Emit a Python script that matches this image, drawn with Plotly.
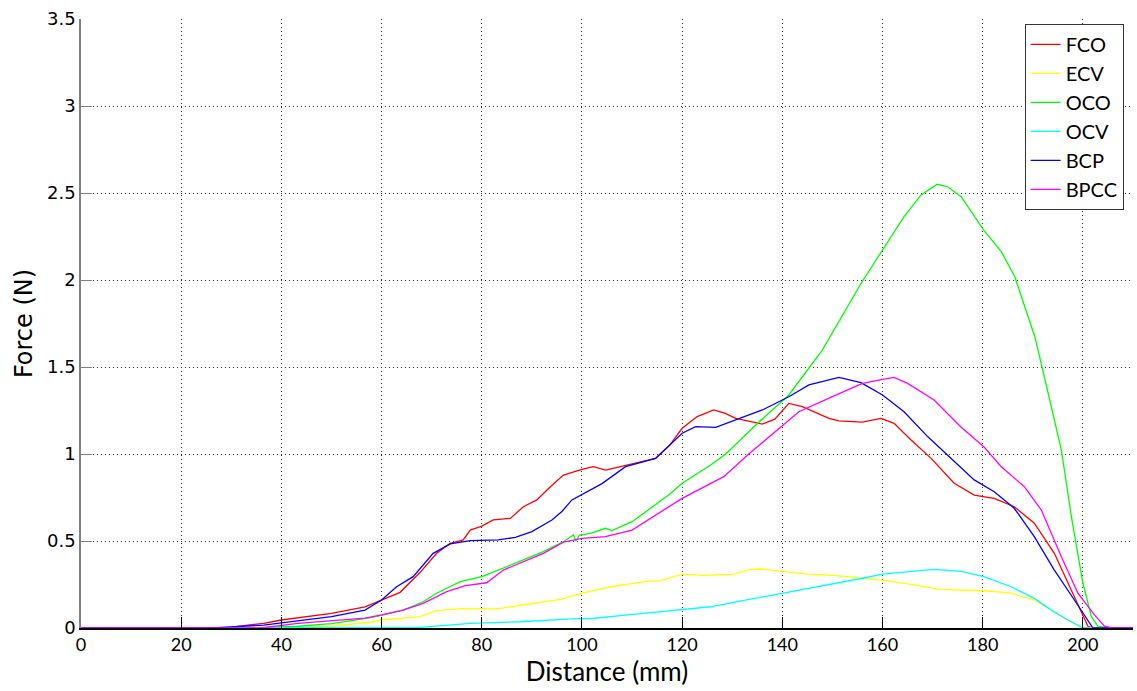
import plotly.graph_objects as go

# ---- data ----
fco_x = [0, 20, 28, 30, 33, 36.5, 40, 45, 50, 56.7, 60, 63.7, 67.7, 71, 73.7, 76.3, 77.7, 80, 82.3, 85.7,
         88.3, 91, 93.7, 96.3, 100, 102.3, 104.7, 109.3, 114.7, 117.5, 120, 123, 126.3, 128.5, 130.7, 136,
         138.5, 141.3, 144, 149.3, 151.3, 156, 159.7, 162.3, 165.7, 169.7, 174.3, 178.3, 182.3, 186.3,
         190.3, 194.3, 197.7, 199.7, 201, 202, 210]
fco_y = [0, 0, 0, 0.005, 0.015, 0.027, 0.046, 0.065, 0.084, 0.122, 0.161, 0.205, 0.32, 0.429, 0.487, 0.506,
         0.563, 0.586, 0.621, 0.63, 0.697, 0.736, 0.812, 0.879, 0.912, 0.927, 0.908, 0.937, 0.975, 1.05,
         1.148, 1.215, 1.253, 1.235, 1.205, 1.172, 1.2, 1.291, 1.272, 1.205, 1.19, 1.183, 1.205, 1.176,
         1.08, 0.975, 0.832, 0.764, 0.745, 0.697, 0.602, 0.429, 0.218, 0.084, 0.01, 0, 0]

ecv_x = [0, 40, 50, 57.8, 60, 67.7, 71, 76.3, 83.3, 91, 95.8, 100, 105.8, 112.5, 115.8, 120, 124.3, 130.3,
         133, 135.7, 140, 145, 151, 155.7, 160.7, 166.7, 171.3, 180.2, 185.7, 190.3, 193.7, 197, 199.7,
         201, 210]
ecv_y = [0, 0, 0.01, 0.033, 0.046, 0.065, 0.1, 0.111, 0.111, 0.142, 0.165, 0.2, 0.237, 0.266, 0.272, 0.31,
         0.303, 0.31, 0.333, 0.339, 0.324, 0.31, 0.301, 0.286, 0.272, 0.247, 0.222, 0.214, 0.2, 0.161,
         0.103, 0.046, 0.005, 0, 0]

oco_x = [0, 35, 43.3, 50, 57.8, 60, 64.3, 68.3, 71, 75.7, 80, 84.3, 88.3, 92.3, 96.3, 98.3, 98.8, 99.5,
         101.7, 104.7, 106, 110, 117.3, 120, 125.7, 128.7, 134.7, 141.3, 148, 155.7, 160, 164.3, 167.7,
         170.9, 173, 175.7, 180.2, 183.7, 186.4, 190.4, 192.3, 195.7, 197.7, 200, 201.7, 203, 205, 210]
oco_y = [0, 0, 0.01, 0.025, 0.06, 0.073, 0.103, 0.151, 0.2, 0.266, 0.295, 0.343, 0.391, 0.439, 0.496,
         0.534, 0.5, 0.534, 0.544, 0.573, 0.56, 0.611, 0.764, 0.832, 0.937, 1.0, 1.167, 1.339, 1.598,
         1.98, 2.176, 2.364, 2.489, 2.55, 2.536, 2.479, 2.287, 2.163, 2.019, 1.674, 1.444, 1.023, 0.64,
         0.257, 0.065, 0.01, 0, 0]

ocv_x = [0, 60, 67.7, 77.7, 87.7, 98, 102.5, 109.2, 115.8, 120, 125.7, 131, 135.7, 140, 145.7, 152.3,
         156, 160, 165, 170.3, 175.7, 180.2, 185.7, 190.3, 193.7, 197, 199.7, 201, 210]
ocv_y = [0, 0, 0.003, 0.027, 0.036, 0.052, 0.056, 0.075, 0.094, 0.107, 0.122, 0.151, 0.176, 0.199,
         0.228, 0.266, 0.286, 0.31, 0.325, 0.337, 0.325, 0.295, 0.237, 0.17, 0.103, 0.046, 0.005, 0, 0]

bcp_x = [0, 26, 30, 36.5, 40, 50, 56.7, 60, 63, 66.3, 70.3, 73.7, 77.7, 80, 83.3, 86.7, 90, 94, 96, 98,
         101.7, 104, 108.7, 114.7, 120, 122.7, 126.7, 130.7, 136, 141.3, 145.3, 151.3, 155.7, 160, 164.3,
         169, 174.3, 178.3, 182.3, 186.3, 190.3, 194.3, 198.3, 201, 202, 210]
bcp_y = [0, 0, 0.006, 0.017, 0.03, 0.065, 0.103, 0.161, 0.237, 0.295, 0.429, 0.483, 0.502, 0.502, 0.506,
         0.521, 0.554, 0.621, 0.67, 0.736, 0.793, 0.83, 0.927, 0.975, 1.119, 1.157, 1.153, 1.195, 1.253,
         1.329, 1.397, 1.44, 1.41, 1.339, 1.243, 1.1, 0.956, 0.851, 0.783, 0.688, 0.525, 0.333, 0.161,
         0.046, 0, 0]

bpcc_x = [0, 36, 43.3, 50, 56.7, 60, 64.3, 68.3, 73, 76.7, 81, 84.3, 88.3, 92.3, 96.3, 100, 104.7, 110,
          120, 128.3, 133.3, 138.3, 143.3, 150, 156, 160, 162.3, 165, 170.3, 175.6, 180.2, 183.7, 188.3,
          191.7, 195.7, 199, 202.3, 204.3, 206, 210]
bpcc_y = [0, 0, 0.027, 0.042, 0.057, 0.075, 0.103, 0.142, 0.209, 0.243, 0.26, 0.333, 0.381, 0.429, 0.493,
          0.515, 0.525, 0.563, 0.745, 0.87, 1.0, 1.119, 1.243, 1.33, 1.406, 1.429, 1.44, 1.406, 1.31, 1.157,
          1.042, 0.927, 0.812, 0.678, 0.41, 0.2, 0.075, 0.01, 0, 0]

series = [
    ("FCO", fco_x, fco_y, "#FF0000"),
    ("ECV", ecv_x, ecv_y, "#FFFF00"),
    ("OCO", oco_x, oco_y, "#00FF00"),
    ("OCV", ocv_x, ocv_y, "#00FFFF"),
    ("BCP", bcp_x, bcp_y, "#0000FF"),
    ("BPCC", bpcc_x, bpcc_y, "#FF00FF"),
]

x_ticks = [0, 20, 40, 60, 80, 100, 120, 140, 160, 180, 200]
y_ticks = [0, 0.5, 1, 1.5, 2, 2.5, 3, 3.5]
y_tick_text = ["0", "0.5", "1", "1.5", "2", "2.5", "3", "3.5"]

fig = go.Figure()
for i, (name, xs, ys, col) in enumerate(series):
    fig.add_trace(go.Scatter(x=xs, y=ys, mode="lines", name=name,
                             line=dict(color=col, width=1.3),
                             legendgroup="g%d" % i))

grid_dash = "1px,3px"

fig.update_layout(
    width=1137, height=691,
    margin=dict(l=81, r=4, t=19, b=63, autoexpand=False),
    paper_bgcolor="white", plot_bgcolor="white",
    showlegend=True,
    legend=dict(x=0.897, y=0.992, xanchor="left", yanchor="top",
                bgcolor="white", bordercolor="#333333", borderwidth=1,
                font=dict(family="Lato, Open Sans, sans-serif", size=20, color="black"),
                tracegroupgap=0, itemwidth=30),
    xaxis=dict(range=[0, 210], tickvals=x_ticks, ticks="inside", ticklen=11, tickcolor="black",
               showline=True, linecolor="black", linewidth=1.5, zeroline=False, automargin=False,
               showgrid=True, gridcolor="#333333", griddash=grid_dash, gridwidth=1,
               tickfont=dict(family="Lato, Open Sans, sans-serif", size=18, color="black"),
               title=dict(text="Distance (mm)", standoff=6,
                          font=dict(family="Lato, Open Sans, sans-serif", size=26, color="black"))),
    yaxis=dict(range=[0, 3.5], tickvals=y_ticks, ticktext=y_tick_text, ticks="inside", ticklen=11,
               tickcolor="#808080", automargin=False,
               showline=True, linecolor="#808080", linewidth=1.5, zeroline=False,
               showgrid=True, gridcolor="#333333", griddash=grid_dash, gridwidth=1,
               tickfont=dict(family="DejaVu Sans, sans-serif", size=18, color="black"),
               title=dict(text="Force (N)", standoff=8,
                          font=dict(family="DejaVu Sans, sans-serif", size=24, color="black"))),
)

fig.write_html("out.html", config={"displayModeBar": False},
               post_script="document.body.style.margin='0px';document.body.style.overflow='hidden';")
